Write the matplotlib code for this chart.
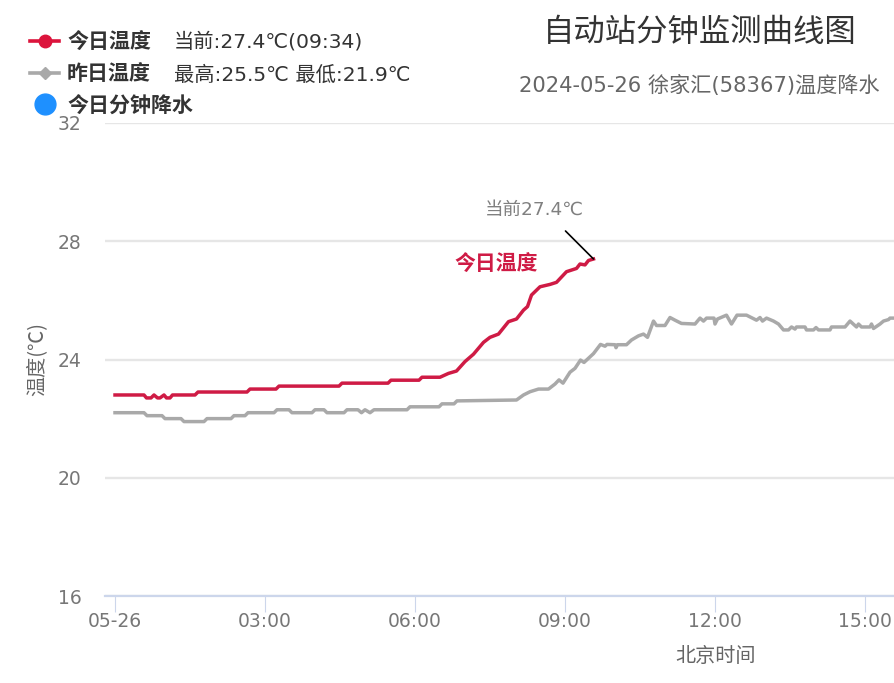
import matplotlib
matplotlib.use('Agg')
import matplotlib.pyplot as plt
from matplotlib.lines import Line2D

# latin glyphs in DejaVu are about as wide as the spaced-out ones in the reference
MIXED = ['DejaVu Sans', 'Noto Sans CJK SC']
plt.rcParams['font.family'] = ['Noto Sans CJK SC', 'DejaVu Sans']

# hours since 00:00, temperature in C
today_hours = [0, 0.58, 0.63, 0.72, 0.78, 0.85, 0.9, 0.98, 1.03, 1.1, 1.15, 1.6, 1.66, 2.64, 2.7, 3.22, 3.28,
               4.48, 4.54, 5.46, 5.52, 6.08, 6.14, 6.5, 6.67, 6.83, 7.0, 7.17, 7.37, 7.5, 7.67, 7.87, 8.03,
               8.17, 8.25, 8.33, 8.5, 8.7, 8.83, 9.03, 9.23, 9.3, 9.4, 9.47, 9.57]
today_temp = [22.8, 22.8, 22.7, 22.7, 22.8, 22.7, 22.7, 22.8, 22.7, 22.7, 22.8, 22.8, 22.9, 22.9, 23.0, 23.0, 23.1,
              23.1, 23.2, 23.2, 23.3, 23.3, 23.4, 23.4, 23.53, 23.61, 23.93, 24.18, 24.58, 24.75, 24.86, 25.28, 25.37,
              25.67, 25.79, 26.18, 26.46, 26.54, 26.61, 26.97, 27.08, 27.23, 27.2, 27.35, 27.4]

yesterday_hours = [0, 0.58, 0.64, 0.94, 1.0, 1.32, 1.38, 1.78, 1.84, 2.32, 2.38, 2.6, 2.66, 3.18, 3.24, 3.48, 3.54,
                   3.94, 4.0, 4.18, 4.24, 4.58, 4.64, 4.86, 4.93, 5.0, 5.1, 5.18, 5.84, 5.9, 6.48, 6.54, 6.78, 6.84,
                   8.03, 8.17, 8.3, 8.47, 8.67, 8.8, 8.88, 8.96, 9.1, 9.2, 9.31, 9.38, 9.57, 9.71, 9.8, 9.84,
                   10.0, 10.02, 10.05, 10.23, 10.33, 10.47, 10.57, 10.65, 10.77, 10.83, 11.0, 11.1, 11.2, 11.33,
                   11.6, 11.7, 11.77, 11.83, 11.98, 12.0, 12.05, 12.23, 12.33, 12.44, 12.63, 12.83, 12.9, 12.95,
                   13.03, 13.17, 13.27, 13.37, 13.47, 13.53, 13.6, 13.63, 13.8, 13.83, 13.97, 14.02, 14.07, 14.3,
                   14.33, 14.6, 14.7, 14.83, 14.87, 14.93, 15.1, 15.13, 15.17, 15.3, 15.37, 15.47, 15.5, 15.6]
yesterday_temp = [22.2, 22.2, 22.1, 22.1, 22.0, 22.0, 21.9, 21.9, 22.0, 22.0, 22.1, 22.1, 22.2, 22.2, 22.3, 22.3, 22.2,
                  22.2, 22.3, 22.3, 22.2, 22.2, 22.3, 22.3, 22.2, 22.3, 22.2, 22.3, 22.3, 22.4, 22.4, 22.5, 22.5, 22.6,
                  22.63, 22.8, 22.91, 23.0, 23.0, 23.17, 23.31, 23.2, 23.57, 23.7, 23.98, 23.9, 24.2, 24.51, 24.45, 24.51,
                  24.5, 24.4, 24.5, 24.5, 24.66, 24.8, 24.86, 24.75, 25.3, 25.15, 25.15, 25.42, 25.33, 25.22,
                  25.2, 25.4, 25.3, 25.4, 25.4, 25.2, 25.37, 25.5, 25.2, 25.5, 25.5, 25.33, 25.42, 25.3,
                  25.4, 25.3, 25.2, 25.0, 25.0, 25.1, 25.03, 25.1, 25.1, 25.0, 25.0, 25.08, 25.0, 25.0,
                  25.1, 25.1, 25.3, 25.1, 25.2, 25.1, 25.1, 25.2, 25.05, 25.2, 25.3, 25.35, 25.4, 25.4]

x_ticks = [0, 3, 6, 9, 12, 15]
x_labels = ['05-26', '03:00', '06:00', '09:00', '12:00', '15:00']
y_ticks = [16, 20, 24, 28, 32]

W, H = 895, 683


def px(x, y):
    return x / W, 1 - y / H


fig = plt.figure(figsize=(8.95, 6.83), dpi=100)
ax = fig.add_axes([105 / W, 1 - 596 / H, 790 / W, 473 / H])
ax.set_xlim(-0.2, 15.6)
ax.set_ylim(16, 32)

ax.plot(yesterday_hours, yesterday_temp, color='#a9a9a9', lw=2.5, zorder=3)
ax.plot(today_hours, today_temp, color='#cf1b45', lw=2.5, zorder=4)

# axes styling
for s in ['top', 'left', 'right']:
    ax.spines[s].set_visible(False)
ax.spines['bottom'].set_color('#ccd6eb')
ax.spines['bottom'].set_linewidth(1.6)
ax.grid(axis='y', color='#e6e6e6', lw=1.7)
ax.set_axisbelow(True)
ax.set_xticks(x_ticks)
ax.set_xticklabels(x_labels, family=MIXED)
ax.set_yticks(y_ticks)
ax.set_yticklabels([str(v) for v in y_ticks], family=MIXED)
ax.tick_params(axis='x', length=11.5, width=0.8, color='#ccd6eb', labelcolor='#777777', labelsize=13.5, pad=0)
ax.tick_params(axis='y', length=0, labelcolor='#777777', labelsize=13.5, pad=17)
fig.text(*px(37, 359), '温度(℃)', rotation=90, ha='center', va='center', color='#666666', fontsize=14.5)
fig.text(*px(716, 656), '北京时间', ha='center', va='center', color='#666666', fontsize=14.5)

# annotation on last point
ax.annotate('', xy=(today_hours[-1], today_temp[-1]), xytext=(-28, 28), textcoords='offset pixels',
            arrowprops=dict(arrowstyle='-', color='black', lw=1.2, shrinkA=0, shrinkB=0), zorder=5)
fig.text(*px(534, 210), '当前27.4℃', ha='center', va='center', color='#808080', fontsize=13.3, family=MIXED)
fig.text(*px(496, 263), '今日温度', ha='center', va='center', color='#cf1b45', fontsize=15, fontweight='bold')

# titles
fig.text(*px(700, 32), '自动站分钟监测曲线图', ha='center', va='center', color='#333333', fontsize=22.6)
fig.text(*px(699, 85), '2024-05-26 徐家汇(58367)温度降水', ha='center', va='center', color='#666666',
         fontsize=15.2, family=MIXED)

# legend
fig.add_artist(Line2D([30 / W, 59 / W], [1 - 41 / H] * 2, color='#dc143c', lw=2.6, transform=fig.transFigure))
fig.add_artist(Line2D([44.5 / W], [1 - 41 / H], color='#dc143c', marker='o', ms=9, transform=fig.transFigure))
fig.add_artist(Line2D([30 / W, 59 / W], [1 - 73 / H] * 2, color='#a9a9a9', lw=2.6, transform=fig.transFigure))
fig.add_artist(Line2D([44.5 / W], [1 - 73 / H], color='#a9a9a9', marker='D', ms=6.5, transform=fig.transFigure))
fig.add_artist(Line2D([44.5 / W], [1 - 104 / H], color='#1e90ff', marker='o', ms=15, transform=fig.transFigure))

legend_style = dict(va='center', color='#333333', fontsize=15.1, fontweight='bold')
fig.text(*px(67, 42), '今日温度', **legend_style)
fig.text(*px(67, 74), '昨日温度', **legend_style)
fig.text(*px(67, 106), '今日分钟降水', **legend_style)
fig.text(*px(174, 42), '当前:27.4℃(09:34)', va='center', color='#333333', fontsize=14.6, family=MIXED)
fig.text(*px(174, 75), '最高:25.5℃ 最低:21.9℃', va='center', color='#333333', fontsize=14.6, family=MIXED)

fig.savefig('out.png', dpi=100)
